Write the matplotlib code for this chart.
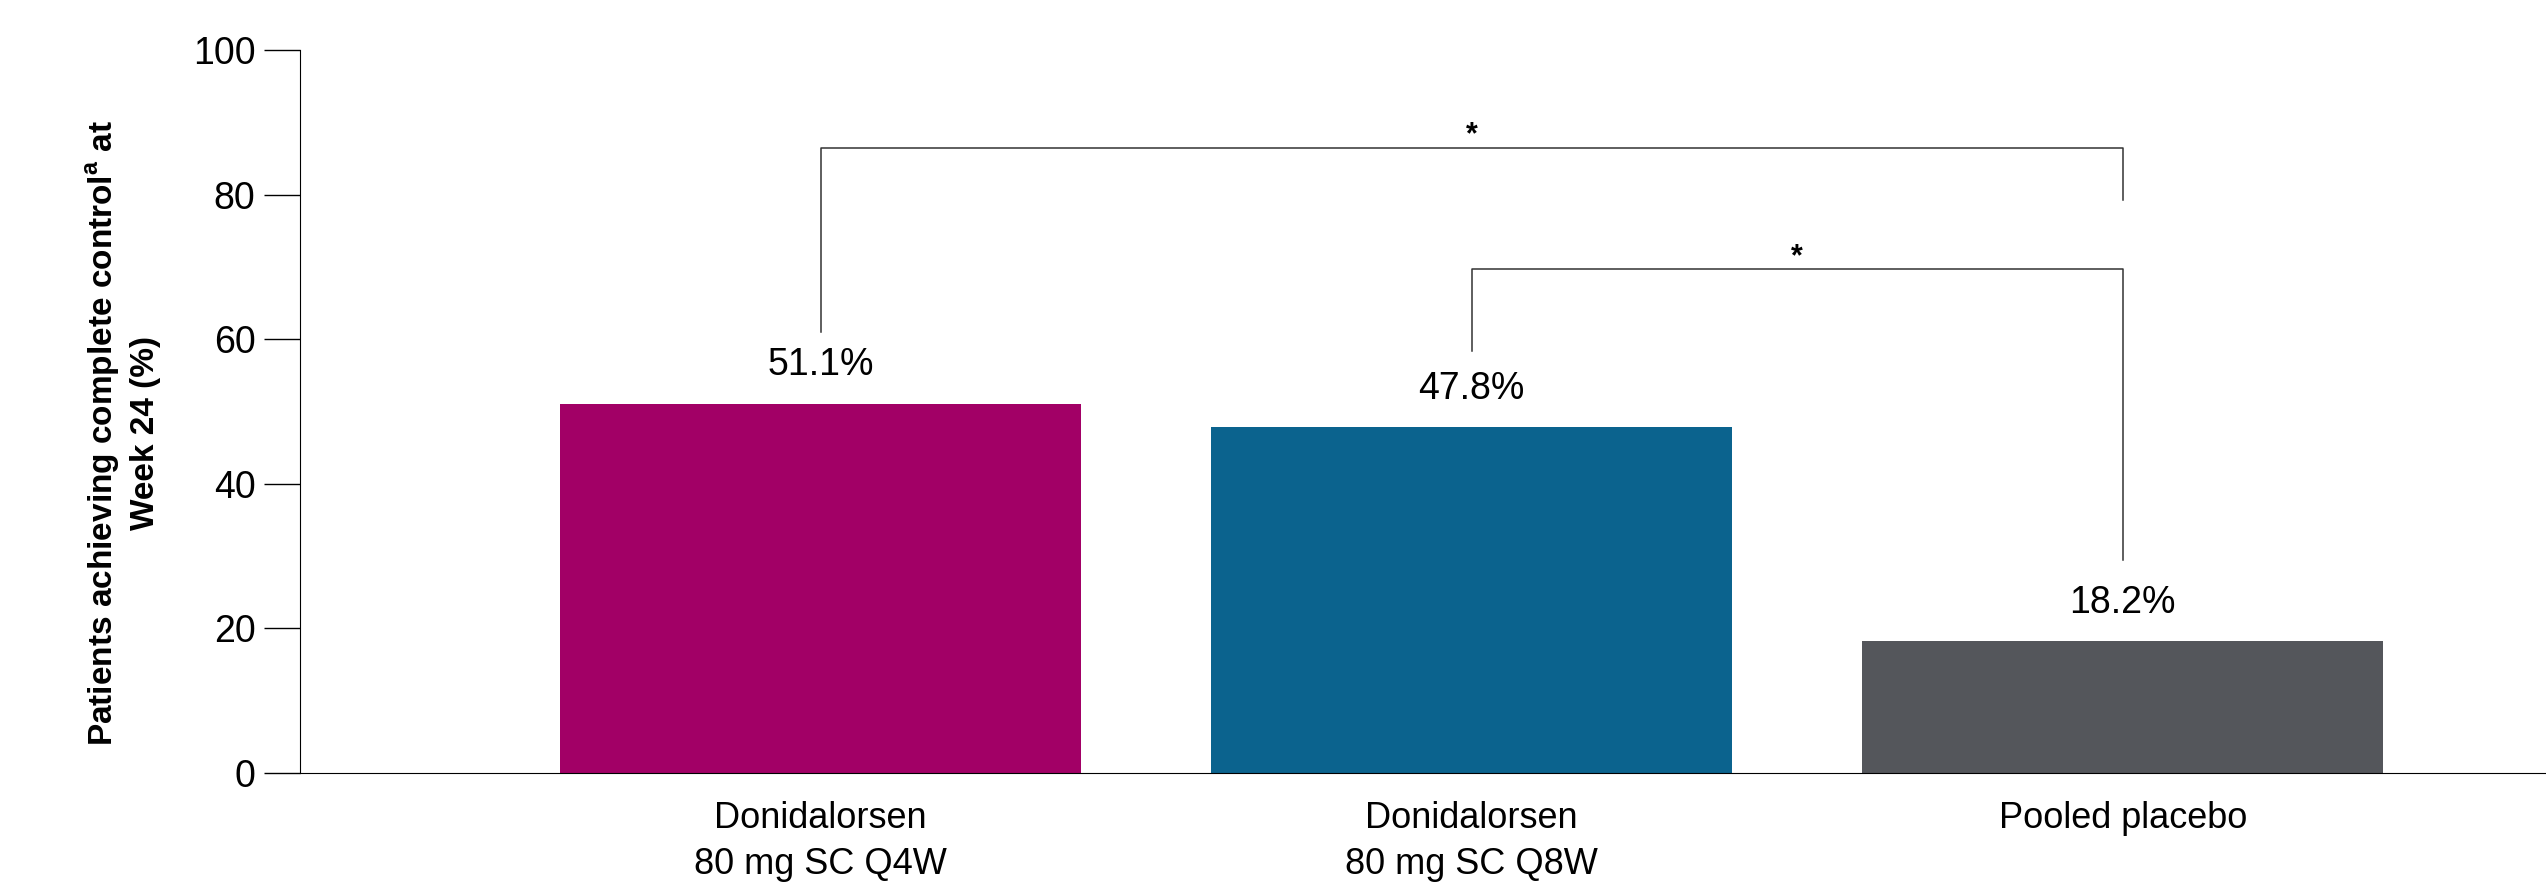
import matplotlib.pyplot as plt

plt.rcParams['font.family'] = ['Liberation Sans', 'DejaVu Sans']

groups = ['Donidalorsen\n80 mg SC Q4W', 'Donidalorsen\n80 mg SC Q8W', 'Pooled placebo']
values = [51.1, 47.8, 18.2]
labels = ['51.1%', '47.8%', '18.2%']
colors = ['#A20066', '#0B638E', '#54565B']

# significance brackets: (from bar, to bar, top y, left leg bottom, right leg bottom)
brackets = [(0, 2, 86.5, 61.0, 79.3), (1, 2, 69.7, 58.4, 29.4)]

fig = plt.figure(figsize=(25.46, 8.84), dpi=100)
ax = fig.add_axes([0.1178, 0.1256, 0.8822, 0.8178])

x = range(len(values))
ax.bar(x, values, width=0.8, color=colors)

for i, v in enumerate(values):
    ax.text(i, v + 5.3, labels[i], ha='center', va='center', fontsize=27)

for a, b, top, la, lb in brackets:
    ax.plot([a, a, b, b], [la, top, top, lb], color='#333333', lw=1.1)
    ax.text((a + b) / 2, top - 0.4, '*', ha='center', va='bottom',
            fontsize=22, fontweight='bold')

ax.set_xlim(-0.8, 2.65)
ax.set_ylim(0, 100)
ax.set_yticks([0, 20, 40, 60, 80, 100])
ax.set_xticks(list(x))
ax.set_xticklabels(groups, fontsize=26, linespacing=1.4)
ax.tick_params(axis='x', length=0, pad=20)
ax.tick_params(axis='y', length=26, width=1, labelsize=27, pad=6)
ax.spines['top'].set_visible(False)
ax.spines['right'].set_visible(False)
ax.set_ylabel('Patients achieving complete control$^\\mathregular{a}$ at\nWeek 24 (%)',
              fontsize=24, fontweight='bold', linespacing=1.3)
ax.yaxis.set_label_coords(-0.062, 0.47)

plt.savefig('out.png', dpi=100)
